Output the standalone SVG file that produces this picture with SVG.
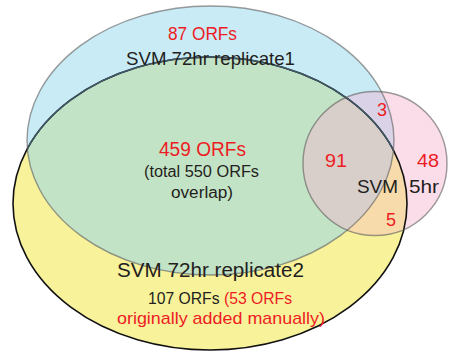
<svg xmlns="http://www.w3.org/2000/svg" width="449" height="352" viewBox="0 0 449 352">
<style>
  text { font-family: "Liberation Sans", Arial, sans-serif; }
  .r { fill: #ed1c24; }
  .k { fill: #231f20; }
  .edge { fill: none; }
</style>
<defs>
  <ellipse id="eB" cx="210.5" cy="140.5" rx="183.5" ry="134.5"/>
  <ellipse id="eY" cx="210" cy="203.5" rx="197" ry="146.5"/>
  <circle id="cP" cx="375" cy="163.5" r="72"/>
  <clipPath id="clipB"><use href="#eB"/></clipPath>
  <clipPath id="clipY"><use href="#eY"/></clipPath>
</defs>
<rect width="449" height="352" fill="#ffffff"/>

<g id="replicate2">
  <use href="#eY" fill="#f8f29a"/>
</g>
<g id="replicate1">
  <use href="#eB" fill="#c9ebf6"/>
</g>
<g id="overlap-rep1-rep2">
  <use href="#eY" fill="#c3e3c6" clip-path="url(#clipB)"/>
</g>
<g id="svm5hr">
  <use href="#cP" fill="#fbdde9"/>
</g>
<g id="overlaps-svm5hr">
  <use href="#cP" fill="#dad2e6" clip-path="url(#clipB)"/>
  <use href="#cP" fill="#f7dbab" clip-path="url(#clipY)"/>
  <g clip-path="url(#clipY)">
    <use href="#cP" fill="#d8cfca" clip-path="url(#clipB)"/>
  </g>
</g>

<g id="outlines">
  <use href="#eY" class="edge" stroke="#111111" stroke-width="1.6"/>
  <use href="#eY" class="edge" stroke="#3f5866" stroke-width="1.4" clip-path="url(#clipB)"/>
  <use href="#eB" class="edge" stroke="#5a5a5a" stroke-opacity="0.6" stroke-width="1.4"/>
  <use href="#cP" class="edge" stroke="#5a5a5a" stroke-opacity="0.6" stroke-width="1.4"/>
</g>

<g id="labels">
  <text class="r" x="168" y="40" font-size="18" textLength="69" lengthAdjust="spacingAndGlyphs">87 ORFs</text>
  <text class="k" x="126" y="65" font-size="18.5" textLength="169" lengthAdjust="spacingAndGlyphs">SVM 72hr replicate1</text>
  <text class="r" x="377" y="116" font-size="18">3</text>
  <text class="r" x="159" y="156" font-size="20" textLength="87" lengthAdjust="spacingAndGlyphs">459 ORFs</text>
  <text class="k" x="144" y="177" font-size="16" textLength="115" lengthAdjust="spacingAndGlyphs">(total 550 ORFs</text>
  <text class="k" x="171" y="198" font-size="16" textLength="62" lengthAdjust="spacingAndGlyphs">overlap)</text>
  <text class="r" x="325" y="167" font-size="18" textLength="22" lengthAdjust="spacingAndGlyphs">91</text>
  <text class="r" x="417" y="167" font-size="18" textLength="22" lengthAdjust="spacingAndGlyphs">48</text>
  <text class="k" x="357" y="193" font-size="18.5" textLength="41" lengthAdjust="spacingAndGlyphs">SVM</text>
  <text class="k" x="409" y="193" font-size="18.5" textLength="30" lengthAdjust="spacingAndGlyphs">5hr</text>
  <text class="r" x="386" y="226" font-size="18">5</text>
  <text class="k" x="117" y="277" font-size="20" textLength="187" lengthAdjust="spacingAndGlyphs">SVM 72hr replicate2</text>
  <text x="148" y="304" font-size="17" textLength="144" lengthAdjust="spacingAndGlyphs"><tspan class="k">107 ORFs </tspan><tspan class="r">(53 ORFs</tspan></text>
  <text class="r" x="117" y="324" font-size="17" textLength="208" lengthAdjust="spacingAndGlyphs">originally added manually)</text>
</g>
</svg>
